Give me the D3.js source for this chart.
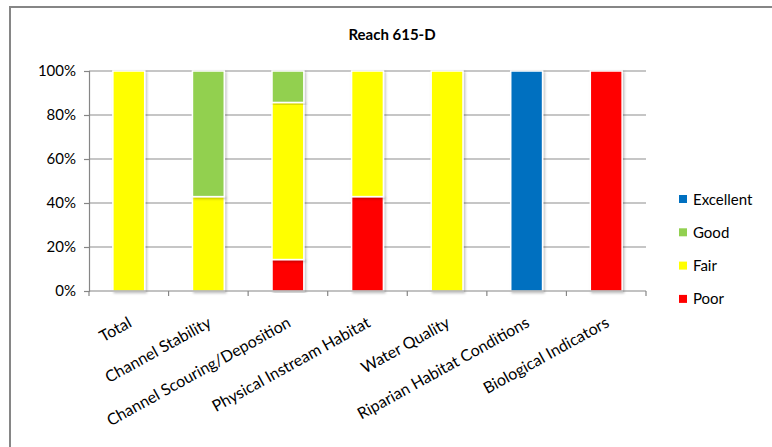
<!DOCTYPE html>
<html><head><meta charset="utf-8">
<script src="https://cdn.jsdelivr.net/npm/d3@7"></script>
<style>body{margin:0;background:#fff;}svg{display:block;}</style>
</head><body><svg id="c" width="772" height="447"></svg>
<script>
const title = "Reach 615-D";
const categories = ["Total","Channel Stability","Channel Scouring/Deposition","Physical Instream Habitat","Water Quality","Riparian Habitat Conditions","Biological Indicators"];
const seriesNames = ["Poor","Fair","Good","Excellent"];
const poor      = [0, 0, 14.3, 42.9, 0, 0, 100];
const fair      = [100, 42.9, 71.4, 57.1, 100, 0, 0];
const good      = [0, 57.1, 14.3, 0, 0, 0, 0];
const excellent = [0, 0, 0, 0, 0, 100, 0];
const colors = {Poor:"#FF0000", Fair:"#FFFF00", Good:"#92D050", Excellent:"#0070C0"};
const yTicks = [0,20,40,60,80,100];
const legendOrder = ["Excellent","Good","Fair","Poor"];

const svg = d3.select("#c");
const font = "Lato, 'Open Sans', sans-serif";
const defs = svg.append("defs");
const f = defs.append("filter").attr("id","sh").attr("x","-20%").attr("y","-5%").attr("width","140%").attr("height","110%");
f.append("feDropShadow").attr("dx",1.5).attr("dy",1.5).attr("stdDeviation",1.2).attr("flood-color","#000").attr("flood-opacity",0.25);

// frame
svg.append("rect").attr("x",10).attr("y",7).attr("width",780).attr("height",460)
  .attr("fill","none").attr("stroke","#868686").attr("stroke-width",2);

const m = {l:89, r:646, t:71, b:291};
const x = d3.scaleBand().domain(categories).range([m.l,m.r]).paddingInner(0.6).paddingOuter(0.3);
const y = d3.scaleLinear().domain([0,100]).range([m.b,m.t]);

// gridlines
svg.append("g").selectAll("line").data(yTicks.filter(d=>d>0)).join("line")
  .attr("x1",m.l).attr("x2",m.r).attr("y1",d=>y(d)).attr("y2",d=>y(d))
  .attr("stroke","#b3b3b3").attr("stroke-width",1.5);

// y axis
const ya = svg.append("g").attr("transform",`translate(${m.l},0)`)
  .call(d3.axisLeft(y).tickValues(yTicks).tickFormat(d=>d+"%").tickSize(5).tickPadding(8));
ya.select(".domain").attr("stroke","#868686").attr("stroke-width",1.2);
ya.selectAll(".tick line").attr("stroke","#868686").attr("stroke-width",1.2);
ya.selectAll("text").attr("font-family",font).attr("font-size",15).attr("fill","#000");

// stacked bars
const rows = categories.map((c,i)=>({cat:c, Poor:poor[i], Fair:fair[i], Good:good[i], Excellent:excellent[i]}));
const stack = d3.stack().keys(seriesNames)(rows);
const bars = svg.append("g");
stack.forEach(s=>{
  bars.selectAll(null).data(s.filter(d=>d[1]-d[0]>0)).join("rect")
    .attr("x",d=>x(d.data.cat)).attr("width",x.bandwidth())
    .attr("y",d=>y(d[1])).attr("height",d=>y(d[0])-y(d[1]))
    .attr("fill",colors[s.key]).attr("stroke","#fff").attr("stroke-width",1.5)
    .attr("filter","url(#sh)");
});

// x axis
const step = x.step();
const xa = svg.append("g");
xa.append("line").attr("x1",m.l).attr("x2",m.r).attr("y1",m.b).attr("y2",m.b)
  .attr("stroke","#868686").attr("stroke-width",1.2);
xa.selectAll(".tk").data(d3.range(categories.length+1)).join("line")
  .attr("x1",i=>m.l+i*step).attr("x2",i=>m.l+i*step).attr("y1",m.b).attr("y2",m.b+5)
  .attr("stroke","#868686").attr("stroke-width",1.2);
xa.selectAll("text").data(categories).join("text")
  .attr("transform",d=>`translate(${x(d)+x.bandwidth()/2+4},${m.b+35}) rotate(-29)`)
  .attr("text-anchor","end").attr("font-family",font).attr("font-size",16).attr("fill","#000")
  .text(d=>d);

// title
svg.append("text").attr("x",392).attr("y",40).attr("text-anchor","middle")
  .attr("font-family",font).attr("font-weight","bold").attr("font-size",15).text(title);

// legend
const lg = svg.append("g");
legendOrder.forEach((k,i)=>{
  const cy = 199 + i*33.3;
  lg.append("rect").attr("x",679).attr("y",cy-4).attr("width",8).attr("height",8).attr("fill",colors[k]);
  lg.append("text").attr("x",693).attr("y",cy+5.5).attr("font-family",font).attr("font-size",15).text(k);
});
</script></body></html>
